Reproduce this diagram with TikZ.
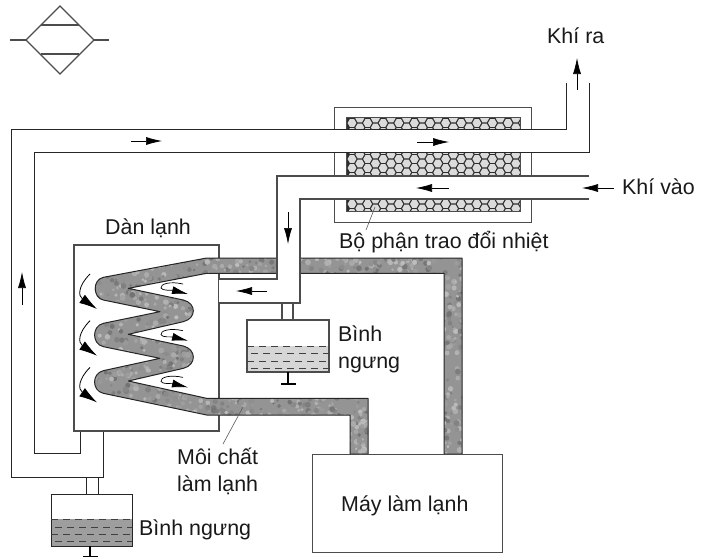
\documentclass[tikz,border=0pt]{standalone}
\usepackage{fontspec}
\setmainfont{Liberation Sans}
\usetikzlibrary{arrows.meta}
\pgfmathsetseed{7}
\colorlet{ln}{black!85}
\colorlet{ln2}{black!70}
\tikzset{
  wall/.style={draw=ln,line width=1pt},
  wall2/.style={draw=ln2,line width=1.1pt},
  flow/.style={draw=black,line width=.6pt,-{Latex[length=16pt,width=8pt]}},
  lab/.style={font=\fontsize{21.4}{24}\selectfont,text=black!90,inner sep=0pt},
  leader/.style={draw=black!65,line width=.6pt},
  liquiddash/.style={draw=black!75,line width=.9pt,dash pattern=on 7pt off 5pt},
}
\def\coilpath{(1206,702) -- (1206,114) -- (440,114) -- (130,172)
 .. controls (95,180) and (100,235) .. (130,240) -- (300,275) -- (130,310)
 .. controls (95,318) and (95,372) .. (130,380) -- (300,415) -- (130,452)
 .. controls (95,460) and (95,512) .. (130,520) -- (440,585) -- (870,585) -- (870,702) -- (924,702)
 -- (924,535) -- (440,535) -- (205,483) -- (370,445)
 .. controls (410,435) and (410,388) .. (370,378) -- (205,343) -- (370,305)
 .. controls (410,295) and (410,250) .. (370,240) -- (205,205) -- (440,160) -- (1152,160) -- (1152,702) -- cycle}
\def\hexa#1#2{\fill[black!14,shift={(#1,#2)}] (0:4.4) -- (60:4.4) -- (120:4.4) -- (180:4.4) -- (240:4.4) -- (300:4.4) -- cycle;}
\begin{document}
\begin{tikzpicture}[x=1pt,y=-1pt]
\useasboundingbox (0,0) rectangle (703,557);
% symbol
\draw[wall2] (10,40) -- (26,40) (94,40) -- (109,40);
\draw[wall2] (60,6) -- (94,40) -- (60,74) -- (26,40) -- cycle;
\draw[wall2] (41,25) -- (79,25) (41,54) -- (79,54);
% exchanger
\draw[wall2,line width=1pt] (334,107) rectangle (531,222);
\begin{scope}
 \clip (346,117) rectangle (520,211);
 \fill[black!82] (346,117) rectangle (520,211);
 \foreach \c in {0,...,11}{
  \foreach \r in {0,...,10}{
   \pgfmathsetmacro\hx{352+\c*15.6}
   \pgfmathsetmacro\hy{123+\r*9}
   \hexa{\hx}{\hy}
   \pgfmathsetmacro\hx{359.8+\c*15.6}
   \pgfmathsetmacro\hy{118.5+\r*9}
   \hexa{\hx}{\hy}
  }
 }
\end{scope}
\draw[draw=black!70,line width=.8pt] (346,117) rectangle (520,211);
% cooler box
\draw[wall2] (74,245) rectangle (219,431);
% coil
\begin{scope}[x=.33333pt,y=-.33333pt,shift={(180,660)}]
 \begin{scope}
  \clip \coilpath;
  \fill[black!42] (0,0) rectangle (1300,800);
  \foreach \i in {1,...,3000}{
   \pgfmathsetmacro\px{rnd*1260+40}
   \pgfmathsetmacro\py{rnd*640+90}
   \pgfmathsetmacro\sh{int(rnd*30+26)}
   \fill[black!\sh] (\px,\py) circle[radius=4+rnd*5];
  }
 \end{scope}
 \draw[ln,line width=1pt,line join=round] \coilpath;
\end{scope}
% main ducts
\fill[white] (11,129) -- (566,129) -- (566,83) -- (589,83) -- (589,152) -- (34,152) -- (34,453) -- (80,453) -- (80,431) -- (103,431) -- (103,477) -- (11,477) -- cycle;
\draw[wall] (566,83) -- (566,129) -- (11,129) -- (11,477) -- (103,477) -- (103,431);
\draw[wall] (589,83) -- (589,152) -- (34,152) -- (34,453) -- (80,453) -- (80,431);
\draw[wall2] (74,431) -- (219,431);
\fill[white] (589,176) -- (277,176) -- (277,279) -- (219,279) -- (219,303) -- (300,303) -- (300,199) -- (589,199) -- cycle;
\draw[wall2] (589,176) -- (277,176) -- (277,279) -- (219,279);
\draw[wall2] (589,199) -- (300,199) -- (300,303) -- (219,303);
% upper condenser
\fill[black!16] (247,346) rectangle (329,372);
\draw[wall2] (247,320) rectangle (329,372);
\draw[wall2] (282,303) -- (282,320) (293,303) -- (293,320);
\draw[liquiddash] (247,346) -- (329,346);
\draw[liquiddash] (251,353) -- (329,353);
\draw[liquiddash] (247,361) -- (329,361);
\draw[liquiddash] (251,368) -- (329,368);
\draw[black,line width=1.1pt] (288,372) -- (288,384) (281,384) -- (296,384);
% lower condenser
\fill[black!38] (51,519) rectangle (132,546);
\draw[wall] (51,494) rectangle (132,546);
\draw[wall] (86,477) -- (86,494) (98,477) -- (98,494);
\draw[liquiddash] (51,519) -- (132,519);
\draw[liquiddash] (55,527) -- (132,527);
\draw[liquiddash] (51,534) -- (132,534);
\draw[liquiddash] (55,541) -- (132,541);
\draw[black,line width=1.1pt] (90,546) -- (90,557) (83,556.5) -- (98,556.5);
% machine
\node[draw=ln2,line width=1.1pt,minimum width=190pt,minimum height=98pt,inner sep=0pt,anchor=north west] (may) at (312,454) {};
\node[lab,anchor=base west] (maylab) at (341,511) {Máy làm lạnh};
% flow arrows
\draw[flow] (131,141) -- (162,141);
\draw[flow] (417,142) -- (449,142);
\draw[flow] (449,188) -- (416,188);
\draw[flow] (614,188) -- (582,188);
\draw[flow] (577,90) -- (577,58);
\draw[flow] (288,212) -- (288,244);
\draw[flow] (22,305) -- (22,272);
\draw[flow] (267,291) -- (236,291);
% fan arrows
\foreach \d in {0,46.7,93.4}{
 \draw[black,line width=.8pt,-{Latex[length=18pt,width=10pt]},shift={(0,\d)}] (90,274) .. controls (78,286) and (78,296) .. (97,309);
 \draw[black,line width=.7pt,-{Latex[length=16pt,width=8pt]},shift={(0,\d)}] (183,284) .. controls (170,281) and (160,284) .. (161,288) .. controls (162,291) and (172,290) .. (188,294);
}
% labels
\node[lab,anchor=base west] (kra) at (547,43) {Khí ra};
\node[lab,anchor=base west] (kvao) at (622,194) {Khí vào};
\node[lab,anchor=base west] (bp) at (339,248) {Bộ phận trao đổi nhiệt};
\node[lab,anchor=base west] (dl) at (105,234) {Dàn lạnh};
\node[lab,anchor=base west] (b1) at (338,341) {Bình};
\node[lab,anchor=base west] (b1b) at (338,368) {ngưng};
\node[lab,anchor=base west] (b2) at (139,535) {Bình ngưng};
\node[lab,anchor=base west] (mc) at (177,464) {Môi chất};
\node[lab,anchor=base west] (ll) at (177,491) {làm lạnh};
\coordinate (p1) at (375,207);
\coordinate (p2) at (366,230);
\coordinate (p3) at (243,407);
\coordinate (p4) at (223,444);
\draw[leader] (p1) -- (p2);
\draw[leader] (p3) -- (p4);
\end{tikzpicture}
\end{document}
